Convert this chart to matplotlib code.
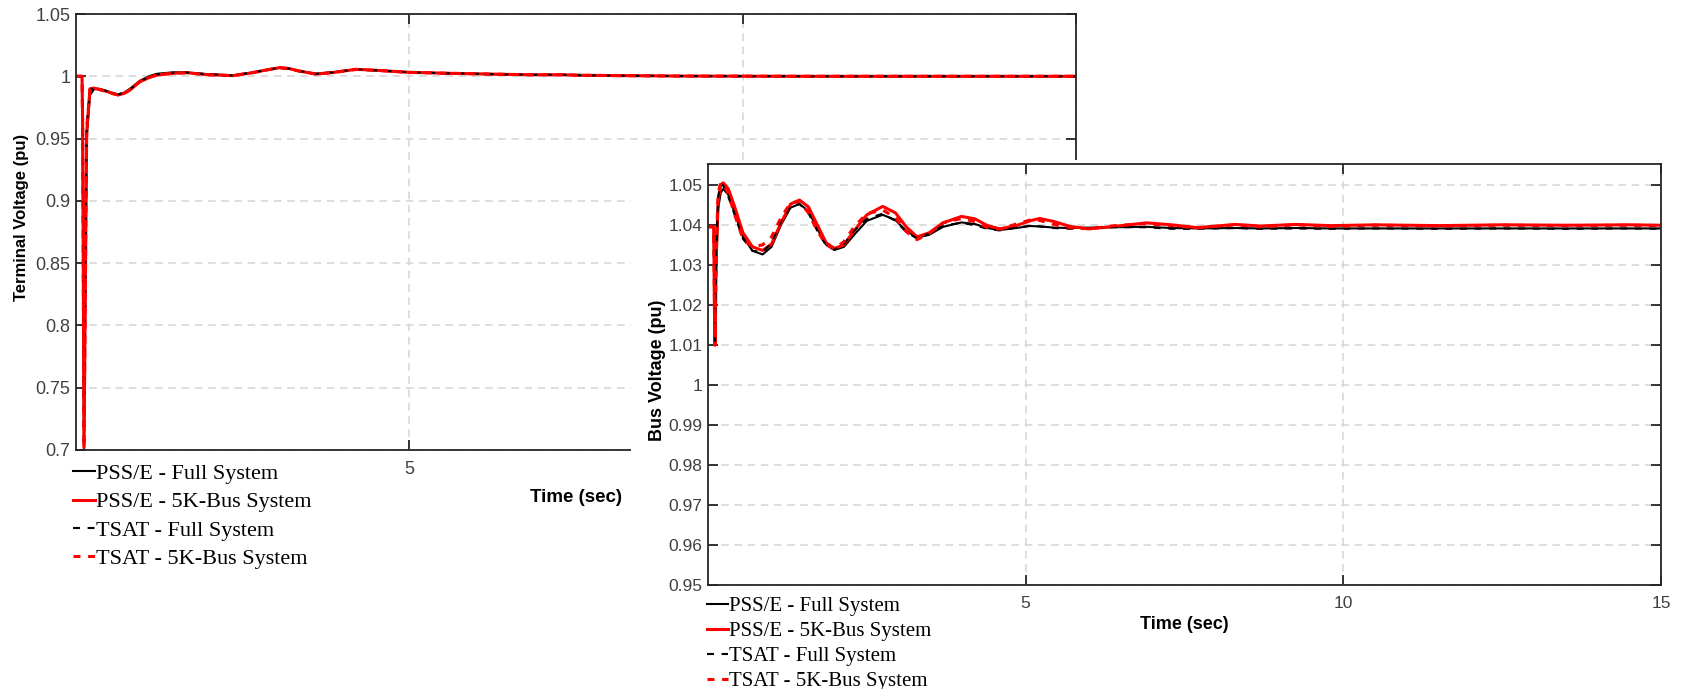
import matplotlib.pyplot as plt

plt.rcParams['lines.scale_dashes'] = False

# ---- left panel: generator terminal voltage ----
t_term = [0, 0.09, 0.1, 0.12, 0.16, 0.21, 0.27, 0.34, 0.45, 0.55, 0.63, 0.72, 0.81, 0.96,
          1.11, 1.21, 1.46, 1.66, 1.96, 2.35, 2.65, 2.85, 3.05, 3.2, 3.35, 3.6, 3.85, 4.2,
          4.5, 5.0, 5.6, 6.2, 6.8, 7.3, 7.6, 8.2, 9.0, 10, 11, 12, 13, 14, 15]
term_psse_full = [1.0, 1.0, 0.95, 0.701, 0.950, 0.985, 0.9895, 0.990, 0.9885, 0.9866, 0.9855,
                  0.9868, 0.990, 0.9965, 1.0003, 1.002, 1.0032, 1.0031, 1.0018, 1.0008, 1.003,
                  1.005, 1.0068, 1.006, 1.0042, 1.002, 1.0032, 1.0056, 1.0047, 1.0032, 1.0023,
                  1.0017, 1.0012, 1.0011, 1.0008, 1.0005, 1.0002, 1.0001, 1.0, 1.0, 1.0, 1.0, 1.0]
term_psse_5k = [1.0, 1.0, 0.96, 0.702, 0.955, 0.990, 0.9905, 0.9896, 0.988, 0.9862, 0.985,
                0.9862, 0.989, 0.9957, 0.9992, 1.001, 1.0024, 1.0029, 1.0013, 1.0005, 1.0029,
                1.005, 1.0069, 1.0062, 1.0042, 1.0018, 1.003, 1.0056, 1.0048, 1.0032, 1.0024,
                1.0018, 1.0012, 1.0012, 1.0008, 1.0005, 1.0002, 1.0001, 1.0, 1.0, 1.0, 1.0, 1.0]
term_tsat_full = [1.0, 1.0, 0.955, 0.703, 0.96, 0.989, 0.9905, 0.9898, 0.9882, 0.9864, 0.9853,
                  0.9866, 0.9895, 0.996, 0.9998, 1.0015, 1.0028, 1.003, 1.0016, 1.0007, 1.003,
                  1.005, 1.0068, 1.0061, 1.0042, 1.0019, 1.0031, 1.0056, 1.0048, 1.0032, 1.0024,
                  1.0018, 1.0012, 1.0012, 1.0008, 1.0005, 1.0002, 1.0001, 1.0, 1.0, 1.0, 1.0, 1.0]
term_tsat_5k = [1.0, 1.0, 0.958, 0.702, 0.958, 0.990, 0.9903, 0.9895, 0.9879, 0.9861, 0.9851,
                0.9862, 0.9892, 0.9958, 0.9993, 1.0011, 1.0025, 1.0028, 1.0013, 1.0005, 1.0029,
                1.005, 1.0069, 1.0061, 1.0041, 1.0018, 1.003, 1.0055, 1.0048, 1.0031, 1.0024,
                1.0018, 1.0012, 1.0012, 1.0008, 1.0005, 1.0002, 1.0001, 1.0, 1.0, 1.0, 1.0, 1.0]

# ---- right panel: bus voltage ----
t_bus = [0, 0.09, 0.1, 0.11, 0.13, 0.16, 0.2, 0.24, 0.32, 0.42, 0.55, 0.7, 0.86, 1.0, 1.15,
         1.3, 1.44, 1.58, 1.72, 1.86, 1.99, 2.14, 2.3, 2.5, 2.75, 2.95, 3.12, 3.29, 3.48, 3.7,
         3.99, 4.2, 4.4, 4.59, 4.85, 5.07, 5.22, 5.45, 5.7, 6.0, 6.4, 6.9, 7.3, 7.7, 8.3, 8.7,
         9.25, 9.8, 10.5, 11.5, 12.5, 13.5, 14.5, 15]
bus_psse_full = [1.0395, 1.0395, 1.025, 1.012, 1.03, 1.044, 1.048, 1.049, 1.0475, 1.043, 1.037,
                 1.0335, 1.0326, 1.0345, 1.040, 1.0443, 1.0452, 1.0435, 1.039, 1.035, 1.0337,
                 1.0345, 1.0375, 1.041, 1.0425, 1.0412, 1.0385, 1.0368, 1.0375, 1.0395, 1.0406,
                 1.0402, 1.0392, 1.0387, 1.0392, 1.0397, 1.0396, 1.0393, 1.0392, 1.0393, 1.0394,
                 1.0395, 1.0392, 1.0391, 1.0392, 1.0391, 1.0392, 1.0391, 1.0391, 1.0391, 1.0391,
                 1.0391, 1.0391, 1.0391]
bus_psse_5k = [1.0395, 1.0395, 1.02, 1.0099, 1.032, 1.046, 1.050, 1.0505, 1.049, 1.0445, 1.038,
               1.0345, 1.0336, 1.0352, 1.0405, 1.0452, 1.0462, 1.0445, 1.040, 1.0355, 1.0341,
               1.035, 1.0385, 1.0425, 1.0446, 1.043, 1.0395, 1.037, 1.038, 1.0405, 1.0421, 1.0415,
               1.0398, 1.039, 1.0398, 1.0410, 1.0416, 1.0408, 1.0396, 1.039, 1.0396, 1.0405, 1.0400,
               1.0393, 1.0401, 1.0397, 1.0401, 1.0398, 1.04, 1.0398, 1.04, 1.0399, 1.04, 1.0399]
bus_tsat_full = [1.0395, 1.0395, 1.022, 1.011, 1.034, 1.047, 1.0502, 1.0498, 1.047, 1.0425, 1.0365,
                 1.0335, 1.0332, 1.0355, 1.041, 1.0448, 1.0452, 1.043, 1.0385, 1.0348, 1.0338,
                 1.0352, 1.0385, 1.0415, 1.0428, 1.0410, 1.0382, 1.0366, 1.0378, 1.0398, 1.0405,
                 1.0399, 1.039, 1.0386, 1.0393, 1.0398, 1.0396, 1.0392, 1.039, 1.0392, 1.0394,
                 1.0394, 1.039, 1.039, 1.0392, 1.039, 1.0391, 1.039, 1.0391, 1.039, 1.0391, 1.039,
                 1.0391, 1.039]
bus_tsat_5k = [1.0395, 1.0395, 1.024, 1.012, 1.035, 1.048, 1.0505, 1.0502, 1.0478, 1.0425, 1.0365,
               1.0345, 1.035, 1.037, 1.0418, 1.0455, 1.0458, 1.043, 1.0385, 1.035, 1.034, 1.0358,
               1.0395, 1.0428, 1.0437, 1.0418, 1.0383, 1.0363, 1.0378, 1.0405, 1.0416, 1.0408,
               1.0393, 1.0389, 1.0402, 1.0412, 1.0411, 1.0401, 1.0393, 1.039, 1.0398, 1.0403,
               1.0398, 1.0392, 1.04, 1.0395, 1.04, 1.0396, 1.0399, 1.0397, 1.0399, 1.0398, 1.0399,
               1.0398]

labels = ['PSS/E - Full System', 'PSS/E - 5K-Bus System', 'TSAT - Full System', 'TSAT - 5K-Bus System']
x_ticks = [5, 10, 15]
term_yticks = [0.7, 0.75, 0.8, 0.85, 0.9, 0.95, 1.0, 1.05]
term_yticklabels = ['0.7', '0.75', '0.8', '0.85', '0.9', '0.95', '1', '1.05']
bus_yticks = [0.95, 0.96, 0.97, 0.98, 0.99, 1.0, 1.01, 1.02, 1.03, 1.04, 1.05]
bus_yticklabels = ['0.95', '0.96', '0.97', '0.98', '0.99', '1', '1.01', '1.02', '1.03', '1.04', '1.05']

W, H = 1684, 689


def box(l, t, r, b):
    # pixel box -> figure fraction
    return [l / W, 1 - b / H, (r - l) / W, (b - t) / H]


def draw(ax, t, series):
    styles = [('black', None, 1.5), ('red', None, 2.2), ('black', (5, 5.5), 1.5), ('red', (5, 5.5), 2.2)]
    for y, (c, dash, lw), lab in zip(series, styles, labels):
        ln, = ax.plot(t, y, color=c, lw=lw, label=lab)
        if dash:
            ln.set_dashes(dash)


def style(ax, size):
    ax.set_axisbelow(True)
    ax.grid(True, color='#d4d4d4', lw=1.1, linestyle=(0, (5.5, 4)))
    for s in ax.spines.values():
        s.set_linewidth(1.3)
        s.set_color('#262626')
    ax.tick_params(direction='in', length=7.5, width=1.3, color='#262626', top=True, right=True,
                   labelcolor='#404040', labelsize=size)
    ax.tick_params(axis='x', pad=8)
    ax.tick_params(axis='y', pad=4)
    for lab in ax.get_xticklabels() + ax.get_yticklabels():
        lab.set_family('Liberation Sans')


fig = plt.figure(figsize=(16.84, 6.89), dpi=100)

# left panel
ax1 = fig.add_axes(box(76, 14, 1076, 450))
draw(ax1, t_term, [term_psse_full, term_psse_5k, term_tsat_full, term_tsat_5k])
ax1.set_xlim(0, 15)
ax1.set_ylim(0.7, 1.05)
ax1.set_xticks(x_ticks)
ax1.set_yticks(term_yticks, term_yticklabels)
style(ax1, 13)
ax1.set_ylabel('Terminal Voltage (pu)', family='Liberation Sans', weight='bold', size=12, va='center')
ax1.yaxis.set_label_coords(-0.054, 0.534)
ax1.set_xlabel('Time (sec)', family='Liberation Sans', weight='bold', size=13.5, va='center')
ax1.xaxis.set_label_coords(0.5, -0.108)
ax1.legend(loc='upper left', bbox_to_anchor=(-0.003, -0.031), frameon=False,
           prop={'family': 'Liberation Serif', 'size': 16}, handlelength=1.0,
           handletextpad=0.05, labelspacing=0.35, borderpad=0, borderaxespad=0)

# white cover where the second figure sits on top
cover = fig.add_axes(box(631, 160, W, H))
cover.set_facecolor('white')
cover.set_xticks([])
cover.set_yticks([])
for s in cover.spines.values():
    s.set_visible(False)

# right panel
ax2 = fig.add_axes(box(708, 164, 1661, 585))
draw(ax2, t_bus, [bus_psse_full, bus_psse_5k, bus_tsat_full, bus_tsat_5k])
ax2.set_xlim(0, 15)
ax2.set_ylim(0.95, 1.0552)
ax2.set_xticks(x_ticks)
ax2.set_yticks(bus_yticks, bus_yticklabels)
style(ax2, 12.5)
ax2.set_ylabel('Bus Voltage (pu)', family='Liberation Sans', weight='bold', size=13, va='center')
ax2.yaxis.set_label_coords(-0.0525, 0.511)
ax2.set_xlabel('Time (sec)', family='Liberation Sans', weight='bold', size=13, va='center')
ax2.xaxis.set_label_coords(0.5, -0.093)
ax2.legend(loc='upper left', bbox_to_anchor=(-0.001, -0.027), frameon=False,
           prop={'family': 'Liberation Serif', 'size': 15}, handlelength=1.0,
           handletextpad=0.05, labelspacing=0.26, borderpad=0, borderaxespad=0)

fig.savefig('out.png', dpi=100, facecolor='white')
